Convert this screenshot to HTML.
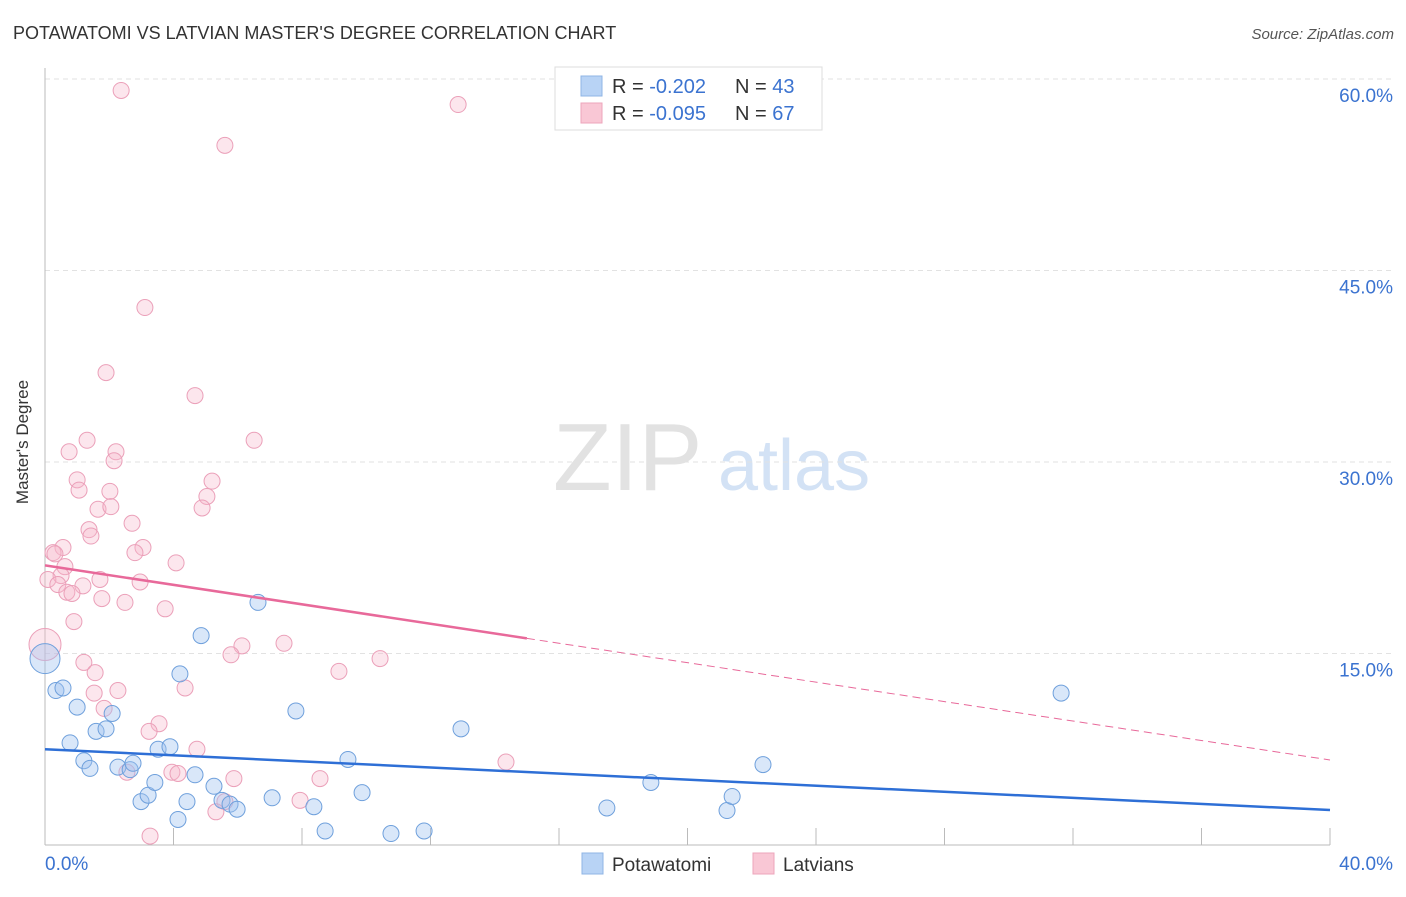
<!DOCTYPE html>
<html><head><meta charset="utf-8"><style>
body{margin:0;background:#fff;font-family:"Liberation Sans",sans-serif}
svg text{font-family:"Liberation Sans",sans-serif}
</style></head><body>
<svg id="c" width="1406" height="892">
<text x="13" y="39" font-size="18" fill="#333">POTAWATOMI VS LATVIAN MASTER'S DEGREE CORRELATION CHART</text>
<text x="1394" y="39" font-size="15" fill="#555" font-style="italic" text-anchor="end">Source: ZipAtlas.com</text>
<text x="41" y="455" font-size="17" fill="#333" text-anchor="middle" transform="rotate(-90 28 455)">Master's Degree</text>
<g><text x="553" y="490" font-size="96" fill="#e2e2e2" font-family="Liberation Serif,serif">ZIP</text><text x="718" y="490" font-size="72" fill="#d3e2f5">atlas</text></g>
<g id="grid"></g><g id="marks"></g>
<g>
<rect x="555" y="67" width="267" height="63" fill="#fff" stroke="#ddd"/>
<rect x="581" y="76" width="21" height="20" fill="#b8d3f5" stroke="#8fb5e5"/>
<rect x="581" y="103" width="21" height="20" fill="#f9c7d5" stroke="#eda5bb"/>
<text x="612" y="93" font-size="20" fill="#333">R = <tspan fill="#3b73d0">-0.202</tspan></text>
<text x="735" y="93" font-size="20" fill="#333">N = <tspan fill="#3b73d0">43</tspan></text>
<text x="612" y="120" font-size="20" fill="#333">R = <tspan fill="#3b73d0">-0.095</tspan></text>
<text x="735" y="120" font-size="20" fill="#333">N = <tspan fill="#3b73d0">67</tspan></text>
</g>
<g>
<rect x="582" y="853" width="21" height="21" fill="#b8d3f5" stroke="#8fb5e5"/><text x="612" y="871" font-size="19" fill="#333">Potawatomi</text>
<rect x="753" y="853" width="21" height="21" fill="#f9c7d5" stroke="#eda5bb"/><text x="783" y="871" font-size="19" fill="#333">Latvians</text>
</g>
</svg>
<script>
const blueX=[0,0.34,0.56,1.0,0.78,1.21,1.4,1.59,1.9,2.09,2.27,2.65,2.74,2.99,3.21,3.42,3.52,3.89,4.14,4.2,4.42,4.67,4.86,5.26,5.51,5.76,5.98,6.63,7.07,7.81,8.37,8.72,9.43,9.87,10.77,11.8,12.95,17.49,18.86,21.23,21.39,22.35,31.63];
const blueY=[14.6,12.1,12.3,10.8,8.0,6.6,6.0,8.9,9.1,10.3,6.1,5.9,6.4,3.4,3.9,4.9,7.5,7.7,2.0,13.4,3.4,5.5,16.4,4.6,3.5,3.2,2.8,19.0,3.7,10.5,3.0,1.1,6.7,4.1,0.9,1.1,9.1,2.9,4.9,2.7,3.8,6.3,11.9];
const pinkX=[0,2.37,12.86,5.6,3.11,1.9,4.67,1.31,6.51,2.21,0.75,2.15,1.0,5.2,1.06,2.02,5.04,1.65,2.05,4.89,2.71,1.37,1.43,0.56,3.05,0.25,0.31,2.8,4.08,0.62,0.5,0.09,1.71,2.96,1.18,0.4,0.68,0.84,1.77,2.49,3.74,0.9,6.13,7.44,5.79,10.43,1.21,1.56,9.15,4.36,1.53,2.27,1.84,3.55,3.24,4.73,3.95,4.14,2.55,5.88,8.56,14.35,5.6,7.94,5.32,3.27];
const pinkY=[15.7,59.1,58.0,54.8,42.1,37.0,35.2,31.7,31.7,30.8,30.8,30.1,28.6,28.5,27.8,27.7,27.3,26.3,26.5,26.4,25.2,24.7,24.2,23.3,23.3,22.9,22.8,22.9,22.1,21.8,21.1,20.8,20.8,20.6,20.3,20.4,19.8,19.7,19.3,19.0,18.5,17.5,15.6,15.8,14.9,14.6,14.3,13.5,13.6,12.3,11.9,12.1,10.7,9.5,8.9,7.5,5.7,5.6,5.7,5.2,5.2,6.5,3.4,3.5,2.6,0.7];
const yTicks=[15,30,45,60];
const xTicks=[0,4,8,12,16,20,24,28,32,36,40];
const blueTrend=[7.5,2.74];
const pinkTrend=[21.9,6.66];
const pinkSolidEnd=15;
const X=v=>45+v/40*1285, Y=v=>845-v*12.767;
const NS="http://www.w3.org/2000/svg";
function mk(t,a,p){const e=document.createElementNS(NS,t);for(const k in a)e.setAttribute(k,a[k]);p.appendChild(e);return e;}
const g=document.getElementById('grid'),m=document.getElementById('marks');
yTicks.forEach(t=>{const l=mk('line',{x1:45,x2:1393,y1:Y(t),y2:Y(t),stroke:'#e2e2e2','stroke-dasharray':'5,4'},g);


const tx=mk('text',{x:1393,y:Y(t)+23,'font-size':19,fill:'#3b73d0','text-anchor':'end'},g);tx.textContent=t.toFixed(1)+'%';

});
mk('line',{x1:45,x2:45,y1:68,y2:845,stroke:'#bbb'},g);
mk('line',{x1:45,x2:1330,y1:845,y2:845,stroke:'#bbb'},g);
xTicks.forEach(t=>{const l=mk('line',{x1:X(t),x2:X(t),y1:828,y2:845,stroke:'#bbb'},g);

});
[[0,'0.0%','start',45],[40,'40.0%','end',1393]].forEach(([v,s,a,x])=>{const tx=mk('text',{x:x,y:870,'font-size':19,fill:'#3b73d0','text-anchor':a},g);tx.textContent=s;

});
pinkX.forEach((x,i)=>{const c=mk('circle',{cx:X(x),cy:Y(pinkY[i]),r:i==0?16:8,fill:'rgba(246,182,202,0.35)',stroke:'#eba0b9','stroke-width':1},m);

});
blueX.forEach((x,i)=>{const c=mk('circle',{cx:X(x),cy:Y(blueY[i]),r:i==0?15:8,fill:'rgba(160,196,240,0.4)',stroke:'#6fa0dc','stroke-width':1},m);

});
const pe=pinkTrend[0]+(pinkTrend[1]-pinkTrend[0])*pinkSolidEnd/40;
let l=mk('line',{x1:X(0),y1:Y(pinkTrend[0]),x2:X(pinkSolidEnd),y2:Y(pe),stroke:'#e8699a','stroke-width':2.5},m);


l=mk('line',{x1:X(pinkSolidEnd),y1:Y(pe),x2:X(40),y2:Y(pinkTrend[1]),stroke:'#e8699a','stroke-width':1,'stroke-dasharray':'8,5'},m);


l=mk('line',{x1:X(0),y1:Y(blueTrend[0]),x2:X(40),y2:Y(blueTrend[1]),stroke:'#2e6fd6','stroke-width':2.5},m);


</script>
</body></html>
